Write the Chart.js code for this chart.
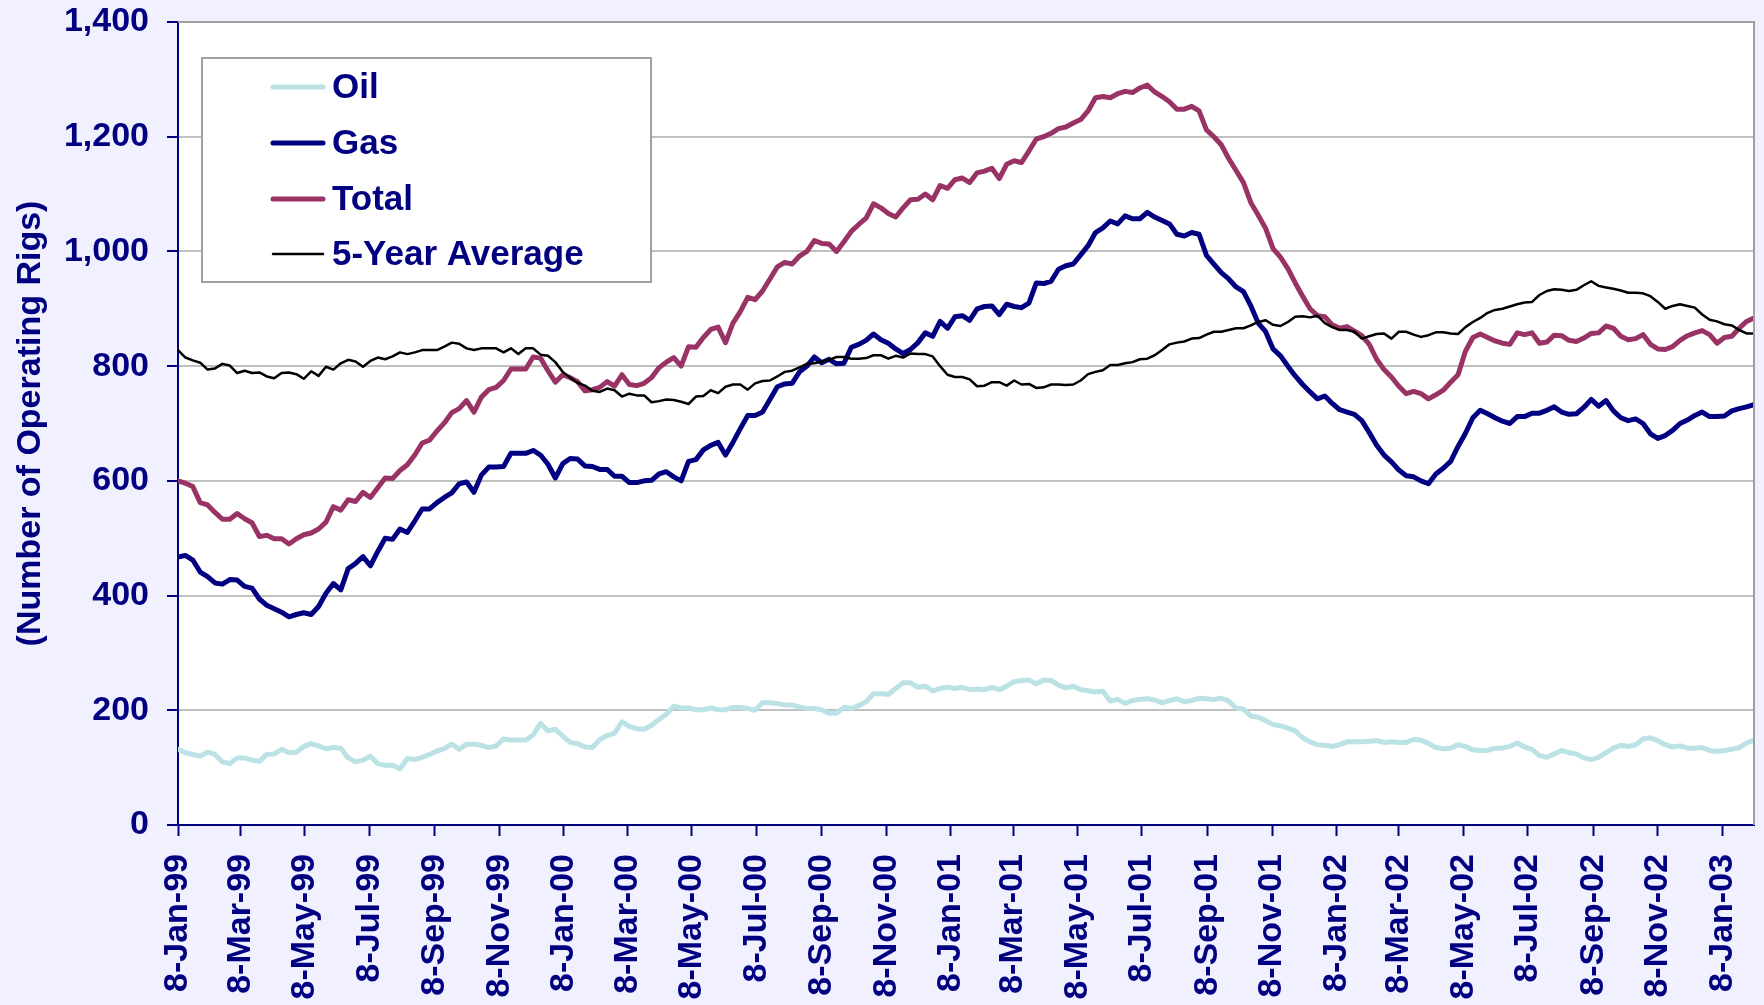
<!DOCTYPE html>
<html>
<head>
<meta charset="utf-8">
<script src="https://cdn.jsdelivr.net/npm/chart.js@4.4.1/dist/chart.umd.min.js"></script>
<style>
html,body{margin:0;padding:0;background:#F0F0FF;}
#wrap{width:1764px;height:1005px;position:relative;}
</style>
</head>
<body>
<div id="wrap"><canvas id="c" width="1764" height="1005"></canvas></div>
<script>
// ---- Data (weekly, starting 8-Jan-99) ----
const startDate = '8-Jan-99';
const tickLabels = ['8-Jan-99','8-Mar-99','8-May-99','8-Jul-99','8-Sep-99','8-Nov-99',
  '8-Jan-00','8-Mar-00','8-May-00','8-Jul-00','8-Sep-00','8-Nov-00',
  '8-Jan-01','8-Mar-01','8-May-01','8-Jul-01','8-Sep-01','8-Nov-01',
  '8-Jan-02','8-Mar-02','8-May-02','8-Jul-02','8-Sep-02','8-Nov-02','8-Jan-03'];
const yTicks = [0,200,400,600,800,1000,1200,1400];
const seriesNames = ['Oil','Gas','Total','5-Year Average'];

const oil = [132,126,123,120,127,123,110,107,117,117,113,111,123,124,132,126,127,137,142,138,133,135,134,117,110,113,120,107,104,104,98,116,114,118,123,129,133,141,132,141,141,139,135,138,150,148,148,148,157,177,164,167,155,
144,142,136,135,149,156,160,180,172,168,167,174,184,193,207,204,204,201,201,204,201,201,205,205,203,200,213,213,212,209,209,206,203,203,201,195,195,205,203,208,215,229,229,228,238,248,248,240,242,234,238,240,238,
240,236,237,236,240,236,242,250,252,253,246,253,252,244,239,242,236,234,232,233,216,219,212,217,219,220,218,213,217,220,215,217,221,220,219,221,216,204,202,190,188,182,175,173,169,164,152,145,140,139,137,140,145,
145,145,146,147,144,145,144,144,149,148,142,135,133,134,140,137,131,130,130,134,134,137,143,136,132,121,118,124,130,126,124,117,114,118,126,134,139,137,140,150,152,147,140,136,138,134,134,135,130,128,130,132,135,143,148];

const gas = [467,470,462,441,433,422,420,428,427,416,413,394,383,377,371,363,367,370,367,381,404,421,410,447,456,468,452,477,500,498,516,510,530,551,551,562,571,579,595,598,580,610,624,624,625,648,648,648,653,645,629,605,630,
639,638,626,625,620,620,608,608,597,597,600,601,612,616,607,600,634,637,654,662,667,645,667,691,714,714,720,742,764,769,770,790,800,816,806,812,804,805,833,838,845,856,846,840,830,822,829,841,858,852,878,866,886,
888,880,900,904,905,890,908,904,902,910,945,944,948,969,975,978,994,1010,1033,1041,1053,1048,1062,1057,1057,1068,1060,1054,1048,1030,1027,1033,1030,993,978,963,952,938,930,905,875,860,830,818,800,783,768,755,743,748,735,724,720,
716,705,684,662,645,633,619,609,607,600,595,612,622,634,660,683,710,723,717,710,704,700,712,712,718,718,723,729,720,716,717,728,742,730,740,722,710,705,708,700,682,674,679,688,700,706,714,720,712,712,713,722,726,729,733];

const total = [600,596,590,562,558,545,533,533,543,534,527,503,505,499,499,490,499,506,509,516,528,555,549,567,564,580,571,588,605,604,618,628,645,666,671,687,701,719,726,740,720,746,759,763,775,795,795,795,816,814,792,772,785,
780,773,757,759,763,773,765,785,768,766,770,780,797,807,815,800,834,833,850,864,868,841,875,895,920,916,931,952,973,981,978,992,1000,1019,1014,1013,1000,1017,1035,1047,1058,1083,1076,1066,1060,1076,1090,1091,1100,1090,1115,1110,1125,
1128,1120,1137,1140,1145,1127,1152,1158,1155,1175,1196,1200,1206,1214,1217,1224,1230,1245,1268,1270,1268,1275,1279,1277,1285,1290,1278,1270,1261,1248,1248,1253,1245,1212,1200,1186,1162,1141,1120,1085,1063,1040,1005,990,970,945,922,900,888,886,872,866,869,
861,853,838,812,794,781,765,752,756,752,743,750,758,772,785,826,850,856,850,844,840,838,858,855,858,840,842,854,853,845,843,849,857,858,870,866,852,846,848,855,838,830,829,834,845,853,858,862,855,840,850,852,866,878,884];

const fiveYearAvg = [828,815,810,806,794,796,804,801,788,792,788,789,782,779,788,789,786,778,791,783,799,794,805,811,808,799,809,815,812,817,824,821,824,828,828,828,834,841,839,831,828,831,831,831,824,831,821,831,831,820,818,807,790,
780,771,766,757,755,761,758,747,752,749,749,737,739,742,741,738,734,747,748,758,753,764,768,768,759,770,774,775,782,790,792,798,804,805,808,811,816,816,813,813,814,819,819,813,818,815,822,821,821,817,800,785,781,
781,777,765,766,772,772,766,775,768,769,762,763,768,768,767,768,775,786,790,793,802,802,805,807,812,813,819,828,838,841,843,848,849,855,860,860,863,866,866,871,877,880,872,870,877,886,887,885,888,875,868,863,863,
860,848,852,856,857,848,860,860,855,851,854,859,859,857,856,868,877,884,893,898,900,904,908,911,912,924,931,934,933,931,933,941,948,940,937,935,932,928,928,927,922,912,900,905,908,905,902,890,881,878,873,871,863,857,857];

// ---- Helpers ----
const MONTHS = ['Jan','Feb','Mar','Apr','May','Jun','Jul','Aug','Sep','Oct','Nov','Dec'];
function parseDate(s){
  const p = s.split('-');
  const yy = +p[2];
  return Date.UTC(yy < 50 ? 2000 + yy : 1900 + yy, MONTHS.indexOf(p[1]), +p[0]);
}
const t0 = parseDate(startDate);
const dayOf = s => Math.round((parseDate(s) - t0) / 86400000);
const tickDays = tickLabels.map(dayOf);
const pts = arr => arr.map((v, i) => ({x: i * 7, y: v}));

const FONT = '"Liberation Sans", Arial, sans-serif';
const NAVY = '#000080';
const colors = ['#BBE2E4', '#000080', '#993366', '#000000'];
const widths = [5, 5, 5, 2.5];
const seriesData = [oil, gas, total, fiveYearAvg];

const bgPlugin = {
  id: 'bg',
  beforeDraw(chart) {
    const {ctx, chartArea: a} = chart;
    ctx.save();
    ctx.fillStyle = '#F0F0FF';
    ctx.fillRect(0, 0, chart.width, chart.height);
    ctx.fillStyle = '#FFFFFF';
    ctx.fillRect(a.left, a.top, a.right - a.left, a.bottom - a.top);
    ctx.restore();
  },
  afterDraw(chart) {
    const {ctx, chartArea: a} = chart;
    ctx.save();
    ctx.strokeStyle = '#A0A0A0';
    ctx.lineWidth = 2;
    ctx.beginPath();
    ctx.moveTo(a.left, a.top);
    ctx.lineTo(a.right, a.top);
    ctx.lineTo(a.right, a.bottom);
    ctx.stroke();
    // legend
    const bx = 202, by = 58, bw = 449, bh = 224;
    ctx.fillStyle = '#FFFFFF';
    ctx.fillRect(bx, by, bw, bh);
    ctx.strokeStyle = '#A0A0A0';
    ctx.lineWidth = 2;
    ctx.strokeRect(bx, by, bw, bh);
    const rows = [87, 143, 199, 254];
    chart.data.datasets.forEach((ds, i) => {
      const y = rows[i];
      ctx.strokeStyle = ds.borderColor;
      ctx.lineWidth = ds.borderWidth;
      ctx.lineCap = 'round';
      ctx.beginPath();
      ctx.moveTo(273, y);
      ctx.lineTo(323, y);
      ctx.stroke();
      ctx.fillStyle = NAVY;
      ctx.font = 'bold 35px ' + FONT;
      ctx.textBaseline = 'middle';
      ctx.textAlign = 'left';
      ctx.fillText(ds.label, 332, y + 1);
    });
    ctx.restore();
  }
};

new Chart(document.getElementById('c'), {
  type: 'line',
  data: {
    datasets: seriesNames.map((name, i) => ({
      label: name,
      data: pts(seriesData[i]),
      borderColor: colors[i],
      backgroundColor: colors[i],
      borderWidth: widths[i],
      order: 4 - i,
      fill: false
    }))
  },
  options: {
    responsive: false,
    animation: false,
    layout: {autoPadding: false, padding: {top: 22, right: 10, left: 0, bottom: 0}},
    elements: {
      point: {radius: 0},
      line: {tension: 0, borderJoinStyle: 'round', borderCapStyle: 'round'}
    },
    plugins: {legend: {display: false}, tooltip: {enabled: false}},
    scales: {
      x: {
        type: 'linear',
        min: 0,
        max: (oil.length - 1) * 7,
        afterBuildTicks: s => { s.ticks = tickDays.map(v => ({value: v})); },
        afterFit: s => { s.height = 180; s.paddingLeft = 0; s.paddingRight = 0; },
        grid: {drawOnChartArea: false, tickLength: 11, tickColor: NAVY, tickWidth: 2},
        border: {color: NAVY, width: 2},
        ticks: {
          minRotation: 90, maxRotation: 90, autoSkip: false, padding: 18,
          color: NAVY, font: {family: FONT, size: 34, weight: 'bold'},
          callback: (v, i) => tickLabels[i]
        }
      },
      y: {
        min: 0, max: 1400,
        afterBuildTicks: s => { s.ticks = yTicks.map(v => ({value: v})); },
        afterFit: s => { s.width = 178; s.paddingTop = 0; s.paddingBottom = 0; },
        grid: {color: '#C0C0C0', lineWidth: 2, tickLength: 11, tickColor: NAVY, tickWidth: 2},
        border: {color: NAVY, width: 2},
        ticks: {
          padding: 18, color: NAVY, font: {family: FONT, size: 34, weight: 'bold'},
          callback: v => v.toLocaleString('en-US')
        },
        title: {
          display: true, text: '(Number of Operating Rigs)', color: NAVY,
          font: {family: FONT, size: 34, weight: 'bold', lineHeight: 1.2},
          padding: {top: 10, bottom: 0}
        }
      }
    }
  },
  plugins: [bgPlugin]
});
</script>
</body>
</html>
